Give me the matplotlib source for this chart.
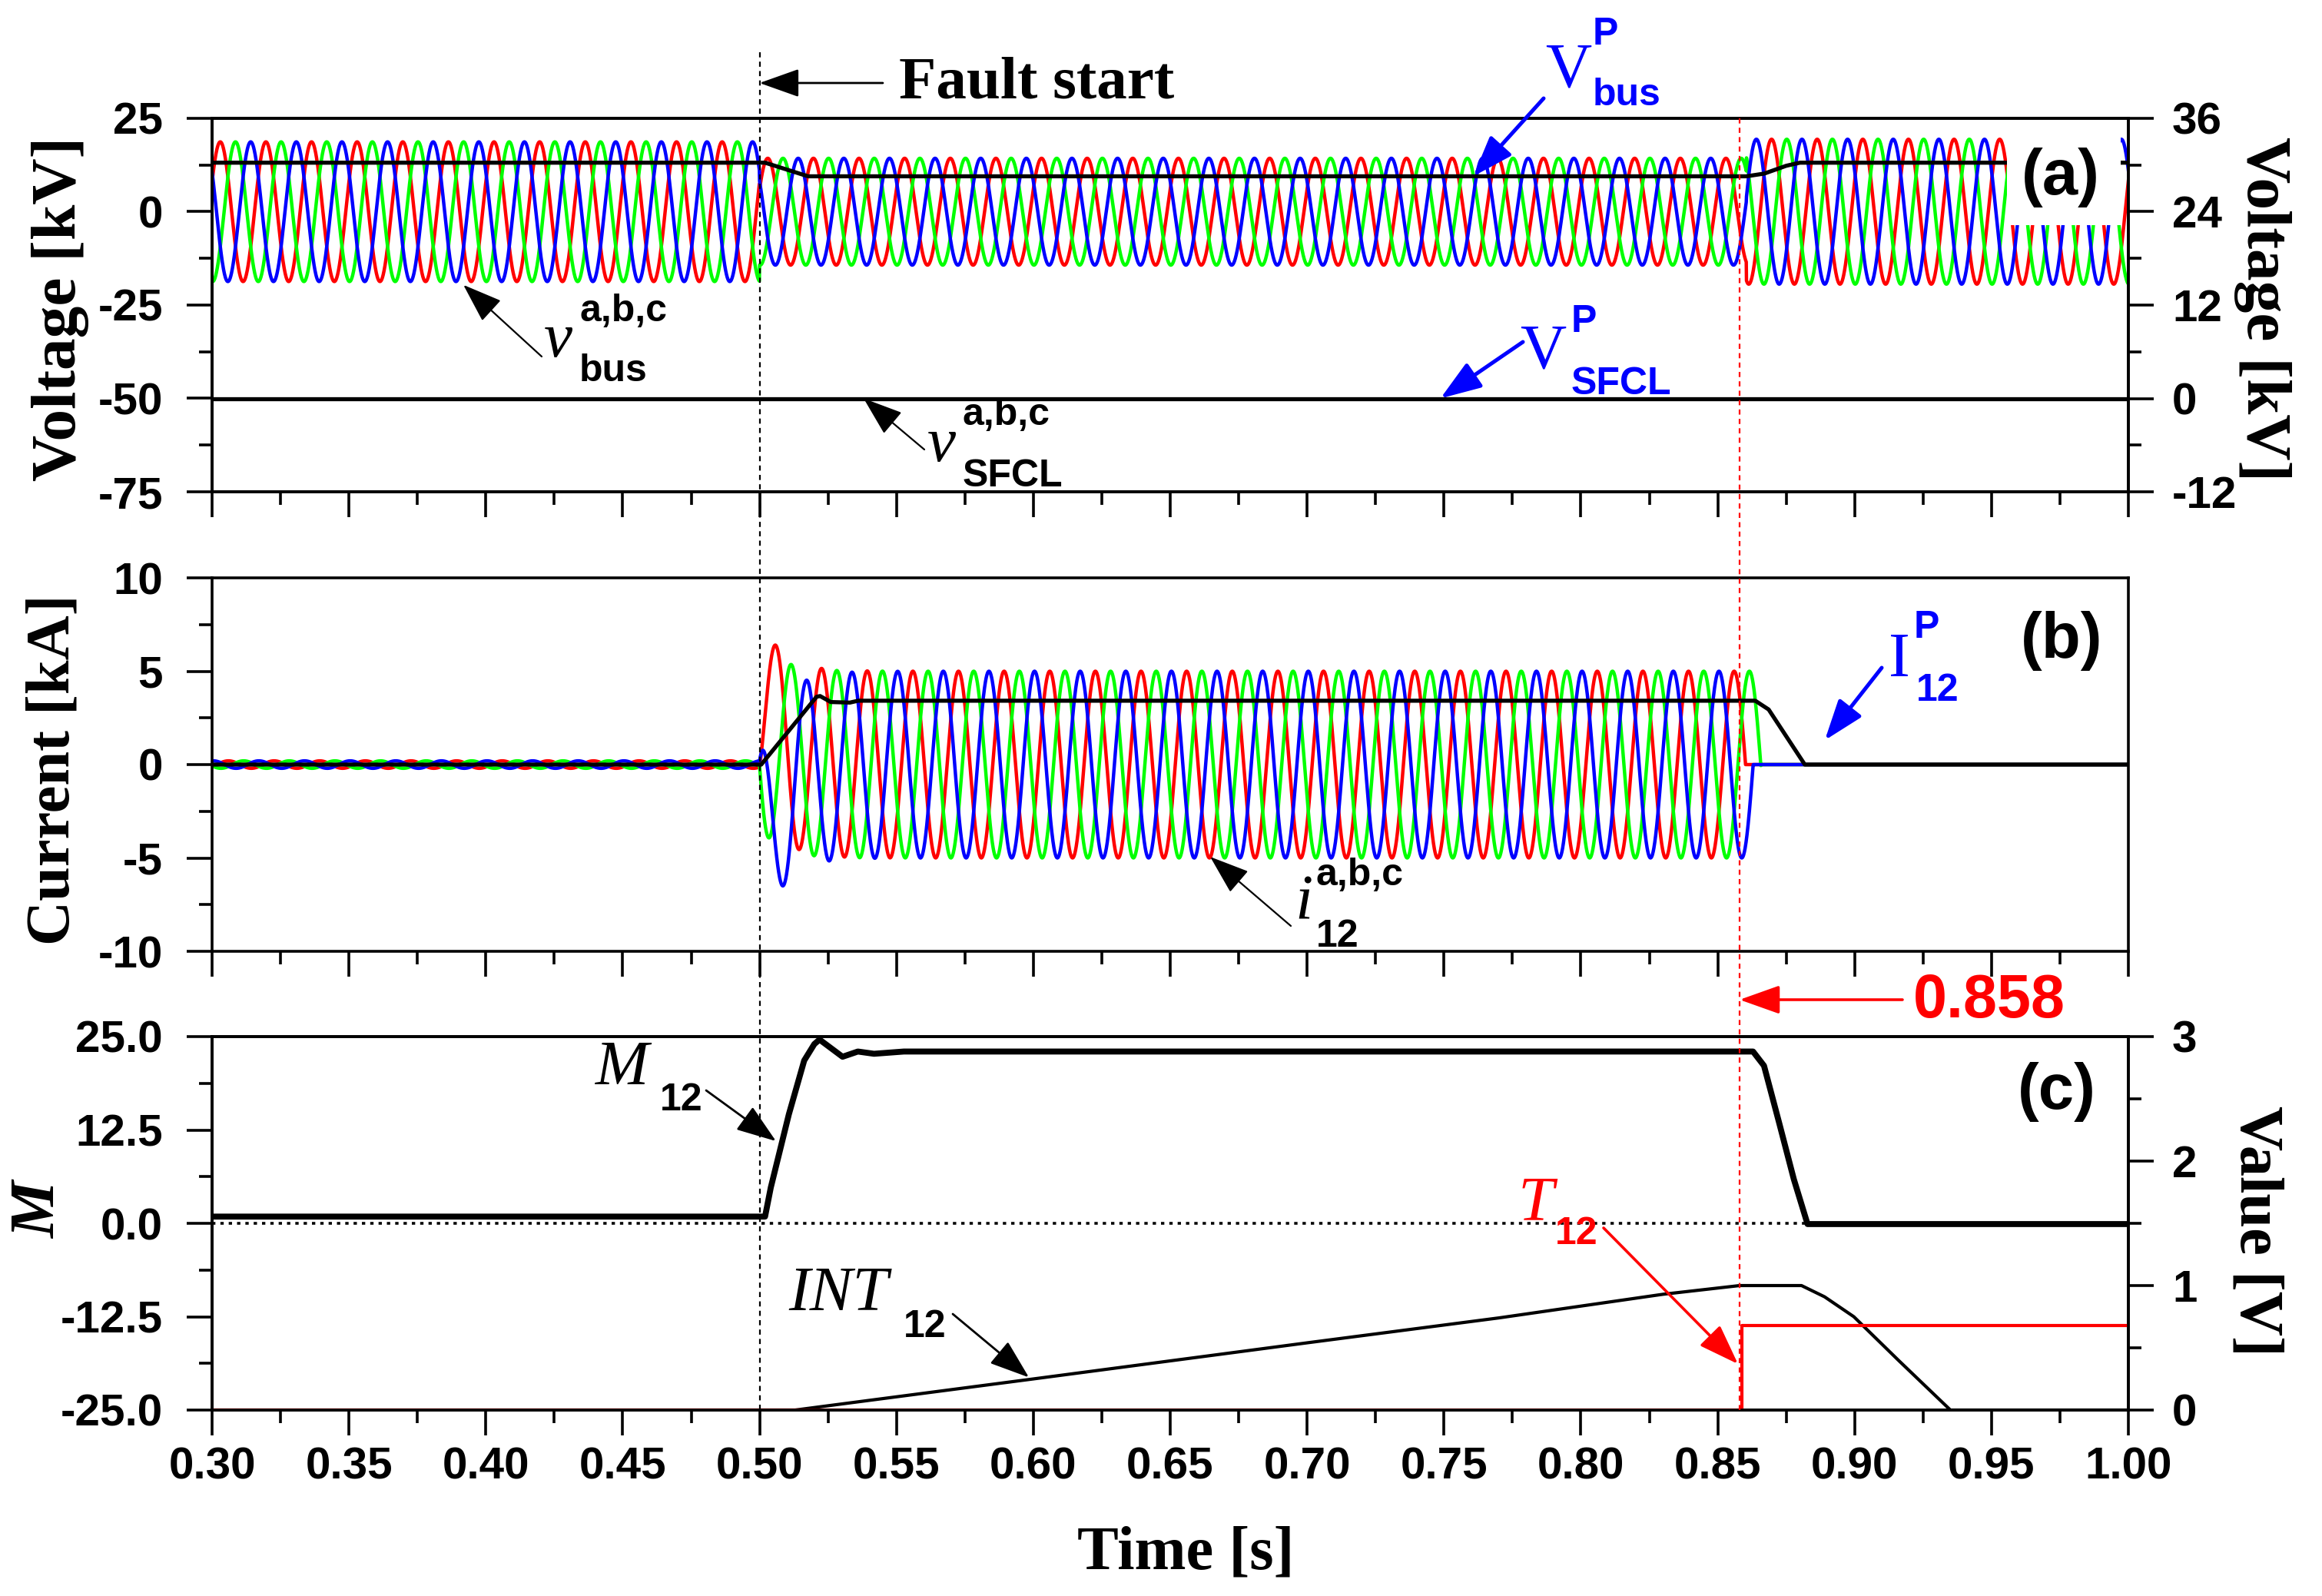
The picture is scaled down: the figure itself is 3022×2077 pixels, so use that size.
import numpy as np
import matplotlib
matplotlib.use("Agg")
import matplotlib.pyplot as plt
import matplotlib.transforms as mtrans
from matplotlib.lines import Line2D
from matplotlib.patches import Rectangle
from matplotlib.ticker import MultipleLocator, FormatStrFormatter

# ---------------- values ----------------
f_sys   = 60.0            # Hz
t_fault = 0.50
t_trip  = 0.858

# (a) bus phase voltages, peak amplitude per time segment [kV]
vbus_edges = [0.30, 0.50, 0.8605, 1.00]
vbus_amp   = [18.7, 14.3, 19.4]
vbus_tpeak = 0.303                       # first positive peak of phase a
# (a) magnitudes on the right axis [kV]
vbus_p_t  = [0.30, 0.502, 0.5177, 0.8605, 0.867, 0.875, 0.880, 1.00]
vbus_p    = [30.3, 30.3, 28.55, 28.55, 28.9, 29.9, 30.3, 30.3]
vsfcl_p_t = [0.30, 1.00]
vsfcl_p   = [0.0, 0.0]

# (b) phase currents of line 1-2 [kA]
i12_edges = [0.30, 0.50, 1.00]
i12_amp   = [0.2, 5.0]
i12_tpeak = 0.506
i12_tau   = 0.0075                       # decay of the dc offset after the fault
i12_cut   = [0.8602, 0.8658, 0.8630]     # phase a, b, c interrupted at zero crossing
i12_p_t   = [0.30, 0.5006, 0.5208, 0.5221, 0.526, 0.533, 0.536, 0.8637, 0.8686, 0.8818, 1.00]
i12_p     = [0.0, 0.0, 3.63, 3.67, 3.35, 3.32, 3.42, 3.42, 2.95, 0.0, 0.0]

# (c) M12 on the left axis, INT12 and T12 on the right axis
m12_t   = [0.30, 0.502, 0.5041, 0.5107, 0.5163, 0.520, 0.5219, 0.5303, 0.5359, 0.5418,
           0.5527, 0.8629, 0.8669, 0.8724, 0.8778, 0.8828, 1.00]
m12     = [0.9, 0.9, 4.8, 14.6, 21.8, 24.0, 24.6, 22.3, 23.0, 22.7,
           23.0, 23.0, 21.1, 13.5, 5.9, -0.1, -0.1]
int12_t = [0.30, 0.513, 0.60, 0.70, 0.77, 0.83, 0.858, 0.8806, 0.889, 0.8997, 0.916, 0.935, 1.00]
int12   = [0.0, 0.0, 0.25, 0.54, 0.74, 0.93, 1.0, 1.0, 0.91, 0.75, 0.40, 0.0, 0.0]
t12_t   = [0.30, 0.8589, 0.8589, 1.00]
t12     = [0.0, 0.0, 0.68, 0.68]

phase_colors = ['#ff0000', '#00ff00', '#0000ff']

# ---------------- waveforms ----------------
t = np.linspace(0.30, 1.00, 8401)
w = 2 * np.pi * f_sys
shift = [0.0, 2 * np.pi / 3, 4 * np.pi / 3]


def seg_value(edges, vals, tt):
    k = np.clip(np.searchsorted(edges, tt, side='right') - 1, 0, len(vals) - 1)
    return np.asarray(vals)[k]


vbus = [seg_value(vbus_edges, vbus_amp, t) * np.cos(w * (t - vbus_tpeak) - s) for s in shift]

i_amp = seg_value(i12_edges, i12_amp, t)
i12 = []
for s, tc in zip(shift, i12_cut):
    c0 = np.cos(w * (t_fault - i12_tpeak) - s)
    dc = (i12_amp[0] - i12_amp[1]) * c0 * np.exp(-(t - t_fault) / i12_tau)
    y = i_amp * np.cos(w * (t - i12_tpeak) - s) + np.where(t >= t_fault, dc, 0.0)
    y[t >= tc] = 0.0
    i12.append(y)

# ---------------- figure ----------------
W, H, DPI = 3022, 2077, 200
plt.rcParams['font.family'] = 'Liberation Sans'
plt.rcParams['font.weight'] = 'bold'
plt.rcParams['font.size'] = 21
plt.rcParams['axes.unicode_minus'] = False

fig = plt.figure(figsize=(W / DPI, H / DPI), dpi=DPI)
L, R = 276, 2770


def box(top, bottom):
    return [L / W, 1 - bottom / H, (R - L) / W, (bottom - top) / H]


ax_a = fig.add_axes(box(154, 640))
ax_b = fig.add_axes(box(752, 1238))
ax_c = fig.add_axes(box(1349, 1835))

serif_lbl = dict(family='Liberation Serif', weight='bold')


def style(ax, show_x=False):
    ax.set_xlim(0.30, 1.00)
    ax.xaxis.set_major_locator(MultipleLocator(0.05))
    ax.xaxis.set_minor_locator(MultipleLocator(0.025))
    ax.xaxis.set_major_formatter(FormatStrFormatter('%.2f'))
    ax.tick_params(which='both', direction='out', width=1.3, top=False, right=False)
    ax.tick_params(which='major', length=12)
    ax.tick_params(which='minor', length=6)
    ax.tick_params(axis='y', pad=11)
    ax.tick_params(axis='x', pad=5, labelbottom=show_x)
    for sp in ax.spines.values():
        sp.set_linewidth(1.3)


def style_right(tw):
    tw.tick_params(axis='y', which='both', direction='out', width=1.3, pad=8.5)
    tw.tick_params(axis='y', which='major', length=12)
    tw.tick_params(axis='y', which='minor', length=6)
    for sp in tw.spines.values():
        sp.set_linewidth(1.3)


# ---- (a) voltages ----
for y, c in zip(vbus, phase_colors):
    ax_a.plot(t, y, color=c, lw=1.6)
style(ax_a)
ax_a.set_ylim(-75, 25)
ax_a.yaxis.set_major_locator(MultipleLocator(25))
ax_a.yaxis.set_minor_locator(MultipleLocator(12.5))
ax_a.set_ylabel('Voltage [kV]', fontsize=30, **serif_lbl)
ax_a.yaxis.set_label_coords(-0.064, 0.49)

tw_a = ax_a.twinx()
tw_a.plot(vbus_p_t, vbus_p, color='k', lw=1.9)
tw_a.plot(vsfcl_p_t, vsfcl_p, color='k', lw=1.9)
tw_a.set_ylim(-12, 36)
tw_a.yaxis.set_major_locator(MultipleLocator(12))
tw_a.yaxis.set_minor_locator(MultipleLocator(6))
style_right(tw_a)
tw_a.set_ylabel('Voltage [kV]', fontsize=30, rotation=270, va='bottom', **serif_lbl)
tw_a.yaxis.set_label_coords(1.055, 0.49)
tw_a.add_patch(Rectangle((0.9367, 0.7146), 0.0593, 0.279, transform=tw_a.transAxes,
                         facecolor='white', edgecolor='none', zorder=5))

# ---- (b) currents ----
for y, c in zip(i12, phase_colors):
    ax_b.plot(t, y, color=c, lw=1.6)
ax_b.plot(i12_p_t, i12_p, color='k', lw=1.9)
style(ax_b)
ax_b.set_ylim(-10, 10)
ax_b.yaxis.set_major_locator(MultipleLocator(5))
ax_b.yaxis.set_minor_locator(MultipleLocator(2.5))
ax_b.set_ylabel('Current [kA]', fontsize=29, **serif_lbl)
ax_b.yaxis.set_label_coords(-0.068, 0.486)

# ---- (c) detection signals ----
ax_c.axhline(0, color='k', lw=1.3, ls=(0, (1.2, 1.8)))
ax_c.plot(m12_t, m12, color='k', lw=2.8)
style(ax_c, show_x=True)
ax_c.set_ylim(-25, 25)
ax_c.yaxis.set_major_locator(MultipleLocator(12.5))
ax_c.yaxis.set_minor_locator(MultipleLocator(6.25))
ax_c.yaxis.set_major_formatter(FormatStrFormatter('%.1f'))
ax_c.set_ylabel('M', fontsize=30, family='Liberation Serif', style='italic', weight='bold')
ax_c.yaxis.set_label_coords(-0.075, 0.535)
ax_c.set_xlabel('Time [s]', fontsize=29, **serif_lbl)
ax_c.xaxis.set_label_coords(0.508, -0.309)

tw_c = ax_c.twinx()
tw_c.plot(int12_t, int12, color='k', lw=1.5)
tw_c.plot(t12_t, t12, color='#ff0000', lw=1.5)
tw_c.set_ylim(0, 3)
tw_c.yaxis.set_major_locator(MultipleLocator(1))
tw_c.yaxis.set_minor_locator(MultipleLocator(0.5))
style_right(tw_c)
tw_c.set_ylabel('Value [V]', fontsize=29, rotation=270, va='bottom', **serif_lbl)
tw_c.yaxis.set_label_coords(1.052, 0.479)

# ---- vertical markers across all panels ----
bx = mtrans.blended_transform_factory(ax_c.transData, fig.transFigure)
fig.add_artist(Line2D([t_fault, t_fault], [1 - 68 / H, 1 - 1835 / H], transform=bx,
                      color='k', lw=0.8, ls=(0, (3, 2.5))))
fig.add_artist(Line2D([t_trip, t_trip], [1 - 154 / H, 1 - 1835 / H], transform=bx,
                      color='#ff0000', lw=0.8, ls=(0, (3, 2.5))))


# ---- annotations ----
def ftext(x, y, s, **kw):
    fig.text(x / W, 1 - y / H, s, ha='left', va='baseline', **kw)


def arrow(host, xy, coords, tail, color='k', lw=1.0):
    host.annotate('', xy=xy, xycoords=coords, xytext=(tail[0] / W, 1 - tail[1] / H),
                  textcoords='figure fraction',
                  arrowprops=dict(arrowstyle='-|>,head_length=0.45,head_width=0.16',
                                  mutation_scale=36, fc=color, ec=color, lw=lw,
                                  shrinkA=0, shrinkB=0))


sym = dict(family='Liberation Serif', weight='normal', size=30)
isym = dict(family='Liberation Serif', weight='normal', style='italic', size=30)
idx = dict(family='Liberation Sans', weight='bold', size=18)
blue, red = '#0000ff', '#ff0000'

ftext(1170, 127, 'Fault start', family='Liberation Serif', weight='bold', size=28.5)
arrow(ax_a, (t_fault, 1 - 108 / H), bx, (1149, 108), lw=1.0)

ftext(2011, 112, 'V', color=blue, **sym)
ftext(2073, 58, 'P', color=blue, **idx)
ftext(2073, 137, 'bus', color=blue, **idx)
arrow(tw_a, (0.7607, 28.55), tw_a.transData, (2009, 128), color=blue, lw=1.8)

ftext(1978, 478, 'V', color=blue, **sym)
ftext(2045, 432, 'P', color=blue, **idx)
ftext(2045, 513, 'SFCL', color=blue, **idx)
arrow(tw_a, (0.7487, 0.0), tw_a.transData, (1982, 445), color=blue, lw=1.8)

ftext(708, 464, 'v', **isym)
ftext(754, 418, 'a,b,c', **idx)
ftext(754, 496, 'bus', **idx)
arrow(tw_a, (0.3918, -19.6), ax_a.transData, (705, 464), lw=0.8)

ftext(1207, 600, 'v', **isym)
ftext(1253, 553, 'a,b,c', **idx)
ftext(1253, 633, 'SFCL', **idx)
arrow(tw_a, (0.538, -50.0), ax_a.transData, (1203, 585), lw=0.8)

fig.text(2631 / W, 1 - 231 / H, '(a)', ha='left', va='center', size=30, weight='bold')
fig.text(2630 / W, 1 - 834 / H, '(b)', ha='left', va='center', size=30, weight='bold')
fig.text(2626 / W, 1 - 1421 / H, '(c)', ha='left', va='center', size=30, weight='bold')

ftext(1685, 1195, 'i', **isym)
ftext(1713, 1152, 'a,b,c', **idx)
ftext(1713, 1232, '12', **idx)
arrow(ax_b, (0.6646, -4.94), ax_b.transData, (1680, 1205), lw=0.8)

ftext(2458, 880, 'I', color=blue, **sym)
ftext(2491, 830, 'P', color=blue, **idx)
ftext(2494, 912, '12', color=blue, **idx)
arrow(ax_b, (0.8891, 1.3), ax_b.transData, (2449, 869), color=blue, lw=1.8)

ftext(775, 1411, 'M', **isym)
ftext(859, 1445, '12', **idx)
arrow(tw_c, (0.506, 11.0), ax_c.transData, (919, 1419), lw=1.0)

ftext(1026, 1705, 'INT', **isym)
ftext(1176, 1740, '12', **idx)
arrow(tw_c, (0.5984, 0.262), tw_c.transData, (1240, 1710), lw=1.0)

ftext(1976, 1587, 'T', color=red, **isym)
ftext(2024, 1619, '12', color=red, **idx)
arrow(tw_c, (0.8574, 0.37), tw_c.transData, (2087, 1598), color=red, lw=1.3)

ftext(2490, 1324, '0.858', color=red, family='Liberation Sans', weight='bold', size=28.5)
arrow(tw_c, (t_trip, 1 - 1301 / H), bx, (2476, 1301), color=red, lw=1.3)

fig.savefig('out.png', dpi=DPI)
